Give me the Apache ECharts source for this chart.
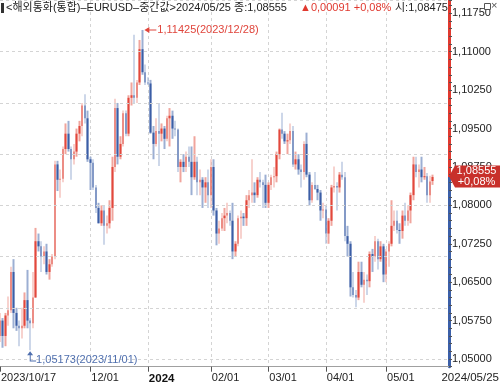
<!DOCTYPE html>
<html><head><meta charset="utf-8">
<script src="https://cdn.jsdelivr.net/npm/echarts@6/dist/echarts.min.js"></script>
<style>html,body{margin:0;padding:0;background:#fff}#c{width:500px;height:387px}</style>
</head><body><div id="c"></div>
<script>
// ---------- data ----------
const dates = [
'2023/10/17','2023/10/18','2023/10/19','2023/10/20','2023/10/23','2023/10/24','2023/10/25','2023/10/26','2023/10/27','2023/10/30','2023/10/31',
'2023/11/01','2023/11/02','2023/11/03','2023/11/06','2023/11/07','2023/11/08','2023/11/09','2023/11/10','2023/11/13','2023/11/14','2023/11/15','2023/11/16','2023/11/17','2023/11/20','2023/11/21','2023/11/22','2023/11/23','2023/11/24','2023/11/27','2023/11/28','2023/11/29','2023/11/30',
'2023/12/01','2023/12/04','2023/12/05','2023/12/06','2023/12/07','2023/12/08','2023/12/11','2023/12/12','2023/12/13','2023/12/14','2023/12/15','2023/12/18','2023/12/19','2023/12/20','2023/12/21','2023/12/22','2023/12/25','2023/12/26','2023/12/27','2023/12/28','2023/12/29',
'2024/01/01','2024/01/02','2024/01/03','2024/01/04','2024/01/05','2024/01/08','2024/01/09','2024/01/10','2024/01/11','2024/01/12','2024/01/15','2024/01/16','2024/01/17','2024/01/18','2024/01/19','2024/01/22','2024/01/23','2024/01/24','2024/01/25','2024/01/26','2024/01/29','2024/01/30','2024/01/31',
'2024/02/01','2024/02/02','2024/02/05','2024/02/06','2024/02/07','2024/02/08','2024/02/09','2024/02/12','2024/02/13','2024/02/14','2024/02/15','2024/02/16','2024/02/19','2024/02/20','2024/02/21','2024/02/22','2024/02/23','2024/02/26','2024/02/27','2024/02/28','2024/02/29',
'2024/03/01','2024/03/04','2024/03/05','2024/03/06','2024/03/07','2024/03/08','2024/03/11','2024/03/12','2024/03/13','2024/03/14','2024/03/15','2024/03/18','2024/03/19','2024/03/20','2024/03/21','2024/03/22','2024/03/25','2024/03/26','2024/03/27','2024/03/28','2024/03/29',
'2024/04/01','2024/04/02','2024/04/03','2024/04/04','2024/04/05','2024/04/08','2024/04/09','2024/04/10','2024/04/11','2024/04/12','2024/04/15','2024/04/16','2024/04/17','2024/04/18','2024/04/19','2024/04/22','2024/04/23','2024/04/24','2024/04/25','2024/04/26','2024/04/29','2024/04/30',
'2024/05/01','2024/05/02','2024/05/03','2024/05/06','2024/05/07','2024/05/08','2024/05/09','2024/05/10','2024/05/13','2024/05/14','2024/05/15','2024/05/16','2024/05/17','2024/05/20','2024/05/21','2024/05/22','2024/05/23','2024/05/24'
];
const opens = [
1.0545,1.0575,1.0545,1.0585,1.0595,1.0670,1.0590,1.0565,1.0560,1.0565,1.0615,
1.0575,1.0570,1.0620,1.0730,1.0720,1.0700,1.0710,1.0670,1.0685,1.0700,1.0880,1.0850,1.0852,1.0910,1.0940,1.0910,1.0890,1.0905,1.0940,1.0955,1.0995,1.0970,
1.0890,1.0883,1.0835,1.0795,1.0765,1.0790,1.0760,1.0765,1.0795,1.0875,1.0990,1.0895,1.0920,1.0980,1.0940,1.1010,1.1015,1.1010,1.1040,1.1105,1.1060,
1.1040,1.1038,1.0942,1.0920,1.0945,1.0940,1.0950,1.0930,1.0970,1.0975,1.0950,1.0948,1.0875,1.0885,1.0875,1.0895,1.0885,1.0855,1.0885,1.0845,1.0850,1.0835,1.0845,
1.0820,1.0875,1.0790,1.0745,1.0755,1.0775,1.0780,1.0785,1.0770,1.0710,1.0725,1.0775,1.0778,1.0775,1.0810,1.0820,1.0825,1.0820,1.0850,1.0845,1.0840,
1.0805,1.0840,1.0855,1.0857,1.0900,1.0948,1.0940,1.0925,1.0927,1.0945,1.0880,1.0890,1.0870,1.0865,1.0920,1.0860,1.0810,1.0840,1.0832,1.0825,1.0790,
1.0792,1.0745,1.0770,1.0835,1.0838,1.0835,1.0860,1.0855,1.0740,1.0725,1.0640,1.0625,1.0620,1.0670,1.0645,1.0655,1.0652,1.0705,1.0700,1.0730,1.0695,1.0720,
1.0665,1.0710,1.0725,1.0760,1.0770,1.0752,1.0750,1.0780,1.0770,1.0790,1.0820,1.0880,1.0865,1.0870,1.0855,1.0857,1.0820,1.08475
];
const highs = [
1.0590,1.0580,1.0590,1.0622,1.0680,1.0695,1.0600,1.0575,1.0600,1.0630,1.0674,
1.0580,1.0670,1.0756,1.0745,1.0730,1.0720,1.0725,1.0695,1.0705,1.0887,1.0887,1.0870,1.0915,1.0960,1.0965,1.0915,1.0920,1.0950,1.0965,1.1000,1.1017,1.0985,
1.0895,1.0890,1.0840,1.0805,1.0800,1.0800,1.0780,1.0810,1.0895,1.1008,1.1000,1.0935,1.0985,1.0985,1.1015,1.1040,1.1133,1.1045,1.1123,1.11425,1.1075,
1.1050,1.1045,1.0955,1.0970,1.1000,1.0960,1.0955,1.0975,1.0990,1.0985,1.0965,1.0950,1.0890,1.0900,1.0905,1.0915,1.0915,1.0935,1.0895,1.0870,1.0855,1.0855,1.0870,
1.0890,1.0890,1.0795,1.0770,1.0785,1.0795,1.0805,1.0790,1.0805,1.0730,1.0780,1.0790,1.0785,1.0820,1.0830,1.0890,1.0845,1.0855,1.0865,1.0850,1.0860,
1.0845,1.0860,1.0875,1.0905,1.0950,1.0981,1.0945,1.0940,1.0960,1.0955,1.0905,1.0900,1.0880,1.0925,1.0942,1.0865,1.0845,1.0865,1.0840,1.0830,1.0805,
1.0800,1.0775,1.0840,1.0876,1.0845,1.0865,1.0885,1.0865,1.0760,1.0730,1.0670,1.0635,1.0690,1.0690,1.0670,1.0665,1.0710,1.0715,1.0740,1.0735,1.0730,1.0725,
1.0715,1.0730,1.0810,1.0790,1.0790,1.0765,1.0790,1.0805,1.0800,1.0825,1.0895,1.0895,1.0880,1.0895,1.0875,1.0863,1.0858,1.0860
];
const lows = [
1.0533,1.0522,1.0525,1.0565,1.0590,1.0560,1.0555,1.0525,1.0540,1.0560,1.0560,
1.05173,1.0560,1.0620,1.0710,1.0670,1.0685,1.0665,1.0655,1.0680,1.0695,1.0828,1.0815,1.0845,1.0900,1.0905,1.0850,1.0880,1.0895,1.0925,1.0935,1.0960,1.0885,
1.0830,1.0830,1.0785,1.0765,1.0760,1.0723,1.0745,1.0755,1.0770,1.0865,1.0880,1.0890,1.0915,1.0935,1.0935,1.0995,1.1000,1.1000,1.1035,1.1055,1.1035,
1.1035,1.0940,1.0890,1.0915,1.0877,1.0925,1.0910,1.0925,1.0915,1.0930,1.0935,1.0865,1.0845,1.0865,1.0865,1.0875,1.0820,1.0850,1.0820,1.0820,1.0795,1.0805,1.0795,
1.0795,1.0780,1.0722,1.0725,1.0750,1.0750,1.0765,1.0760,1.0695,1.0700,1.0720,1.0735,1.0760,1.0760,1.0795,1.0805,1.0805,1.0815,1.0835,1.0795,1.0795,
1.0795,1.0830,1.0835,1.0845,1.0890,1.0930,1.0920,1.0900,1.0920,1.0875,1.0870,1.0860,1.0835,1.0850,1.0855,1.0800,1.0805,1.0830,1.0810,1.0770,1.0775,
1.0725,1.0725,1.0760,1.0825,1.0790,1.0825,1.0850,1.0730,1.0700,1.0622,1.0620,1.0601,1.0615,1.0640,1.0610,1.0625,1.0640,1.0670,1.0690,1.0675,1.0690,1.0650,
1.0650,1.0680,1.0720,1.0750,1.0745,1.0725,1.0735,1.0760,1.0760,1.0765,1.0810,1.0855,1.0835,1.0845,1.0850,1.0805,1.0805,1.0840
];
const closes = [
1.0575,1.0545,1.0585,1.0595,1.0670,1.0590,1.0565,1.0560,1.0565,1.0615,1.0575,
1.0570,1.0620,1.0730,1.0720,1.0700,1.0710,1.0670,1.0685,1.0700,1.0880,1.0850,1.0852,1.0910,1.0940,1.0910,1.0890,1.0905,1.0940,1.0955,1.0995,1.0970,1.0890,
1.0883,1.0835,1.0795,1.0765,1.0790,1.0760,1.0765,1.0795,1.0875,1.0990,1.0895,1.0920,1.0980,1.0940,1.1010,1.1015,1.1010,1.1040,1.1105,1.1060,1.1040,
1.1038,1.0942,1.0920,1.0945,1.0940,1.0950,1.0930,1.0970,1.0975,1.0950,1.0948,1.0875,1.0885,1.0875,1.0895,1.0885,1.0855,1.0885,1.0845,1.0850,1.0835,1.0845,1.0820,
1.0875,1.0790,1.0745,1.0755,1.0775,1.0780,1.0785,1.0770,1.0710,1.0725,1.0775,1.0778,1.0775,1.0810,1.0820,1.0825,1.0820,1.0850,1.0845,1.0840,1.0805,
1.0840,1.0855,1.0857,1.0900,1.0948,1.0940,1.0925,1.0927,1.0945,1.0880,1.0890,1.0870,1.0865,1.0920,1.0860,1.0810,1.0840,1.0832,1.0825,1.0790,1.0792,
1.0745,1.0770,1.0835,1.0838,1.0835,1.0860,1.0855,1.0740,1.0725,1.0640,1.0625,1.0620,1.0670,1.0645,1.0655,1.0652,1.0705,1.0700,1.0730,1.0695,1.0720,1.0665,
1.0710,1.0725,1.0760,1.0770,1.0752,1.0750,1.0780,1.0770,1.0790,1.0820,1.0880,1.0865,1.0870,1.0855,1.0857,1.0820,1.08464,1.08555
];
const padCategories = ['', '', '', '', '', ''];
const yLabelValues = [1.05, 1.0575, 1.065, 1.0725, 1.08, 1.0875, 1.095, 1.1025, 1.11, 1.1175];
const xLabelDates = ['2023/10/17', '2023/12/01', '2024/01/01', '2024/02/01', '2024/03/01', '2024/04/01', '2024/05/01'];
const xLabelTexts = ['2023/10/17', '12/01', '2024', '02/01', '03/01', '04/01', '05/01'];
const endDateLabel = '2024/05/25';
const titleMain = '<해외통화(통합)–EURUSD–중간값>2024/05/25 종:1,08555';
const titleChange = '▲0,00091 +0,08%';
const titleOpen = '시:1,08475';
const currentPrice = 1.08555;
const currentTag = ['1,08555', '+0,08%'];
const highMark = { date: '2023/12/28', value: 1.11425, text: '1,11425(2023/12/28)' };
const lowMark = { date: '2023/11/01', value: 1.05173, text: '1,05173(2023/11/01)' };

// ---------- chart ----------
const FONT = '"Liberation Sans", "Noto Sans CJK KR", sans-serif';
const UP = '#e2483d', UP_W = '#f0a59d', DN = '#3c5ea6', DN_W = '#9cafd3';
const yMin = 1.0485, yMax = 1.1201;
const categories = dates.concat(padCategories);
const wickData = dates.map((d, i) => closes[i] >= opens[i]
  ? [lows[i], highs[i], lows[i], highs[i]]
  : [highs[i], lows[i], lows[i], highs[i]]);
const bodyData = dates.map((d, i) => [opens[i], closes[i], Math.min(opens[i], closes[i]), Math.max(opens[i], closes[i])]);
const labelIdx = xLabelDates.map(d => categories.indexOf(d));
const isLabel = (i) => labelIdx.indexOf(i) >= 0;
const isSplit = (i) => i > 0 && labelIdx.indexOf(i) >= 0;
const frac = (yMax - currentPrice) / (yMax - yMin);

const chart = echarts.init(document.getElementById('c'));
chart.setOption({
  animation: false,
  backgroundColor: '#fff',
  grid: { left: 0, right: 51, top: 0, bottom: 20.3, containLabel: false, outerBoundsMode: 'none' },
  xAxis: {
    type: 'category', data: categories, boundaryGap: false,
    axisLine: { lineStyle: { color: '#a0a0a0', width: 1 } },
    axisTick: { show: true, interval: (i) => isLabel(i), length: 5, lineStyle: { color: '#555' } },
    axisLabel: {
      interval: (i) => isLabel(i), align: 'left', margin: 6, padding: [0, 0, 0, 1],
      color: '#222', fontSize: 11, fontFamily: FONT, hideOverlap: false,
      formatter: (v, i) => {
        const k = xLabelDates.indexOf(v);
        if (k < 0) return '';
        return xLabelTexts[k] === '2024' ? '{b|2024}' : xLabelTexts[k];
      },
      rich: { b: { fontWeight: 'bold', fontSize: 11.5, fontFamily: FONT, color: '#111' } }
    },
    splitLine: { show: true, interval: (i) => isSplit(i), lineStyle: { type: [3, 3], color: '#d4d4d4', width: 1 } }
  },
  yAxis: {
    type: 'value', position: 'right', min: yMin, max: yMax, interval: 0.0015, scale: true,
    axisLine: { show: true, lineStyle: { width: 3, color: new echarts.graphic.LinearGradient(0, 0, 0, 1, [
      { offset: 0, color: '#e0392f' }, { offset: frac, color: '#e0392f' },
      { offset: frac, color: '#3b5fa8' }, { offset: 1, color: '#3b5fa8' }]) } },
    axisTick: { show: true, length: 3, lineStyle: { color: '#555' } },
    axisLabel: {
      margin: 3, color: '#222', fontSize: 11, fontFamily: FONT, showMinLabel: true, showMaxLabel: true,
      formatter: (v) => yLabelValues.some(t => Math.abs(t - v) < 1e-7) ? v.toFixed(5).replace('.', ',') : ''
    },
    splitLine: { show: false }
  },
  series: [
    {
      type: 'line', data: [], z: 1, silent: true,
      markLine: {
        silent: true, symbol: 'none', animation: false,
        label: { show: false },
        lineStyle: { type: [3, 3], color: '#d4d4d4', width: 1 },
        data: yLabelValues.map(v => ({ yAxis: v }))
      }
    },
    {
      type: 'candlestick', name: 'wick', data: wickData, barWidth: 2, z: 3, silent: true,
      itemStyle: { color: UP_W, color0: DN_W, borderColor: UP_W, borderColor0: DN_W, borderWidth: 0 }
    },
    {
      type: 'candlestick', name: 'body', data: bodyData, barWidth: 2, z: 4, silent: true,
      itemStyle: { color: UP, color0: DN, borderColor: UP, borderColor0: DN, borderWidth: 0 },
      markPoint: {
        silent: true, animation: false,
        data: [
          {
            coord: [highMark.date, highMark.value],
            symbol: 'path://M0,3L5,0L5,2.5L12,2.5L12,3.5L5,3.5L5,6Z', symbolSize: [12, 6], symbolOffset: [8, 0],
            itemStyle: { color: '#e0453c' },
            label: { show: true, position: 'right', distance: 1, formatter: highMark.text, color: '#e0453c', fontSize: 11, fontFamily: FONT }
          },
          {
            coord: [lowMark.date, lowMark.value],
            symbol: 'path://M3,0L6,4L3.6,4L3.6,9.4L9,9.4L9,10.4L2.6,10.4L2.6,4L0,4Z', symbolSize: [9, 10.4], symbolOffset: [1.5, 6.2],
            itemStyle: { color: '#4f6fae' },
            label: { show: true, position: 'right', distance: 0, offset: [0, 4], formatter: lowMark.text, color: '#4f6fae', fontSize: 11, fontFamily: FONT }
          },
          {
            coord: [categories[categories.length - 1], currentPrice],
            symbol: 'path://M0,11L6,0L51,0L51,22L6,22Z', symbolSize: [51, 22], symbolOffset: [25.5, -0.5],
            itemStyle: { color: '#c8302b' },
            label: { show: true, position: 'inside', offset: [2, 0], formatter: currentTag.join('\n'), color: '#fff', fontSize: 11, lineHeight: 10.5, fontFamily: FONT }
          }
        ]
      }
    }
  ],
  graphic: [
    { type: 'rect', left: 1, top: 3, shape: { width: 3, height: 10 }, style: { fill: '#333' }, z: 10 },
    { type: 'text', left: 6, top: 2, z: 10, style: { text: titleMain, fontSize: 11, fontFamily: FONT, fill: '#222' } },
    { type: 'text', left: 300, top: 2, z: 10, style: { text: titleChange, fontSize: 11, fontFamily: FONT, fill: '#e0392f' } },
    { type: 'text', left: 395, top: 2, z: 10, style: { text: titleOpen, fontSize: 11, fontFamily: FONT, fill: '#222' } },
    { type: 'rect', left: 484, top: 3, shape: { width: 6, height: 6 }, style: { fill: '#fff', stroke: '#555', lineWidth: 1 }, z: 10 },
    { type: 'text', left: 491, top: 0, z: 10, style: { text: '×', fontSize: 11, fontFamily: FONT, fill: '#555' } },
    { type: 'text', right: 1, top: 372, z: 10, style: { text: endDateLabel, fontSize: 11.5, fontFamily: FONT, fill: '#222' } }
  ]
});
</script></body></html>
